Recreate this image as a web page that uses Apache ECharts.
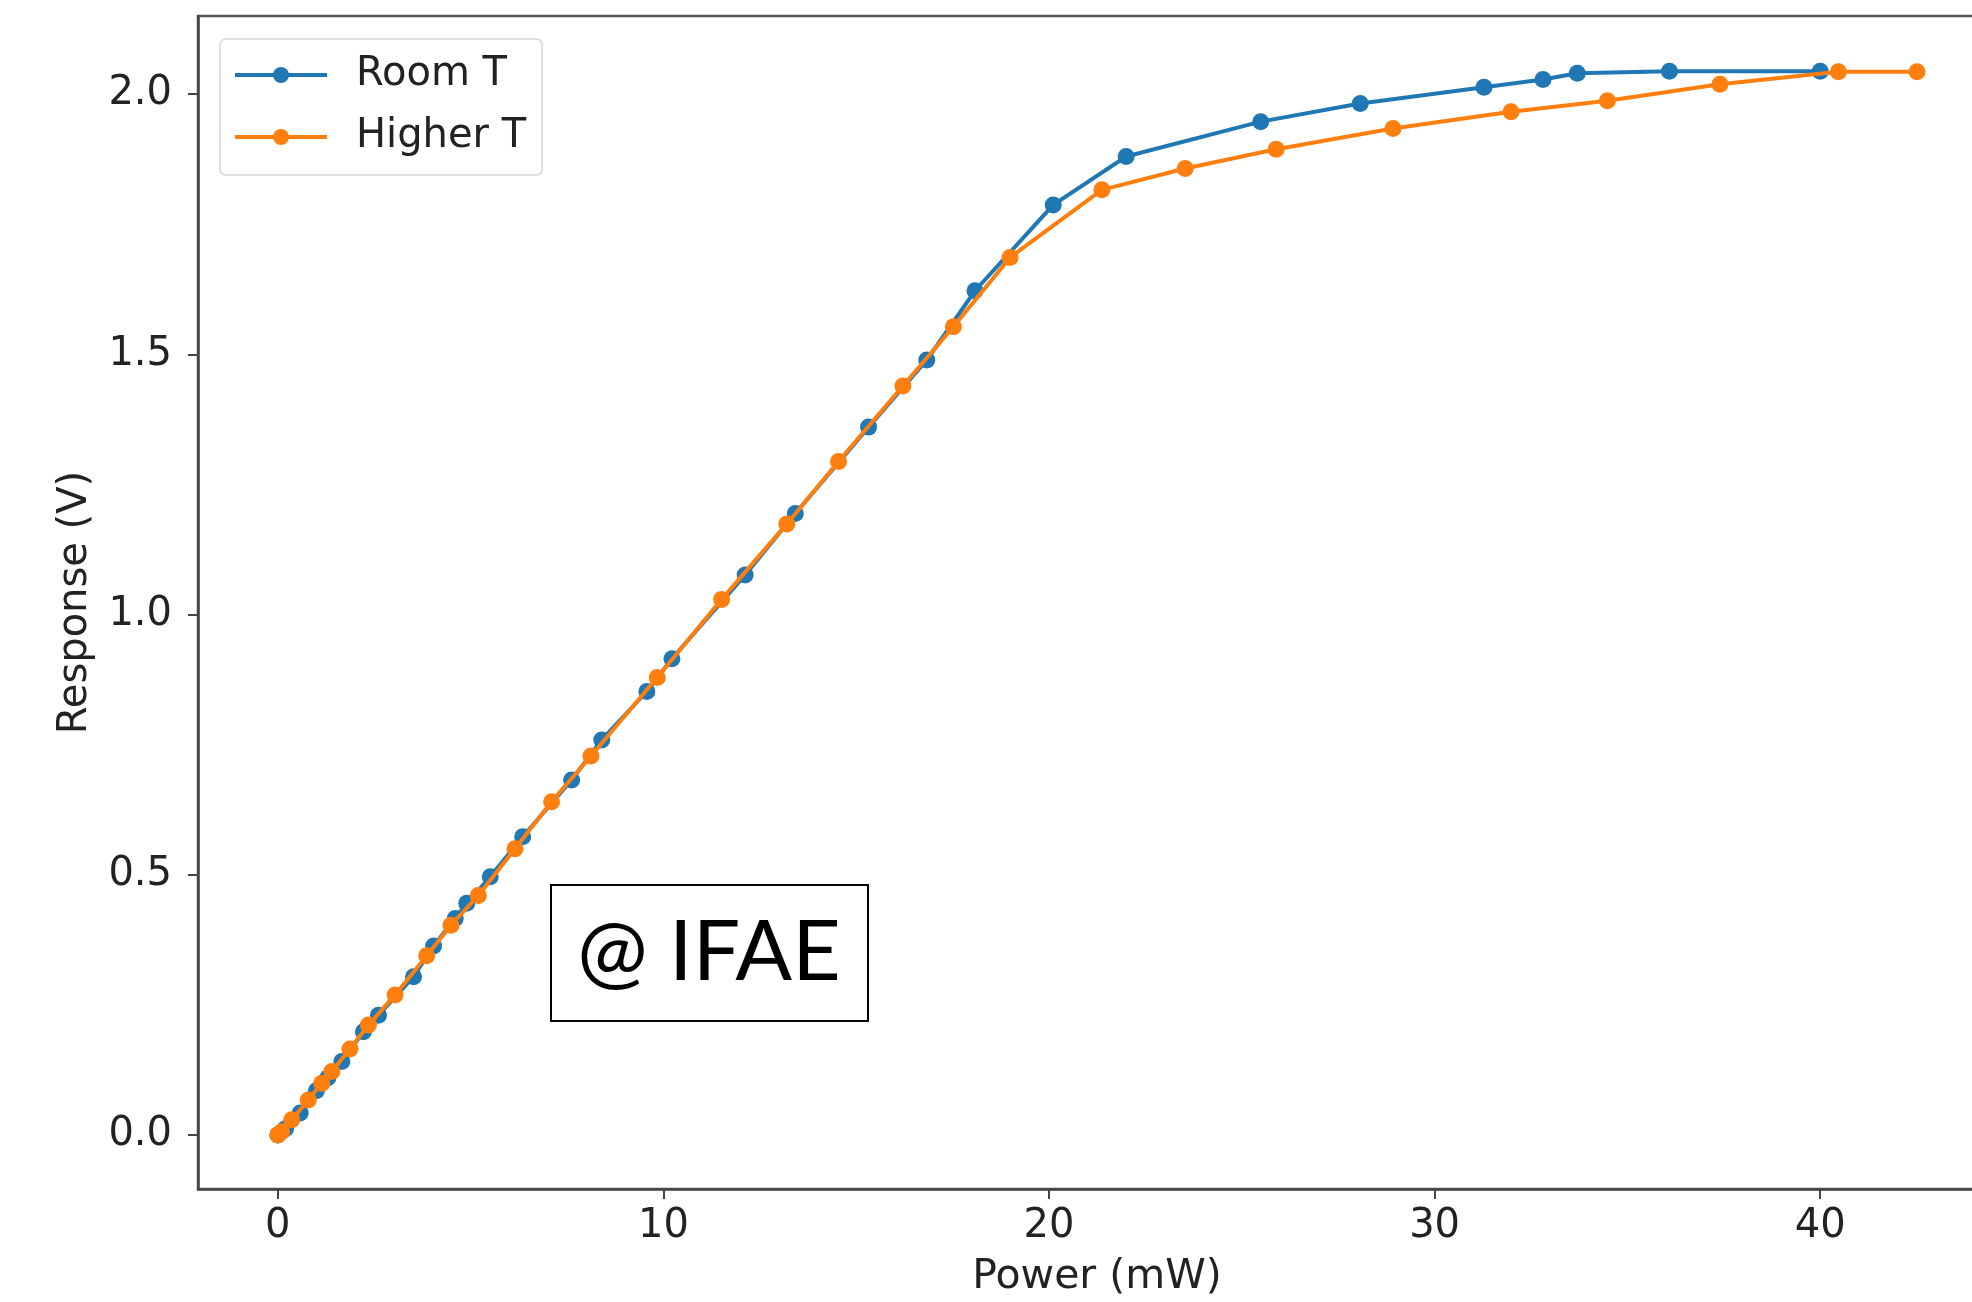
<!DOCTYPE html>
<html lang="en">
<head>
    <meta charset="UTF-8">
    <title>Response vs Power</title>
    <script src="https://cdn.jsdelivr.net/npm/echarts@6/dist/echarts.min.js"></script>
    <style>
        html, body { margin: 0; padding: 0; background: #fff; }
    </style>
</head>
<body>
    <div id="main" style="width: 1972px;height:1302px;"></div>
    <script type="text/javascript">
        // Room T : [power (mW), response (V)]
        var roomT = [
            [0, 0], [0.2, 0.012], [0.58, 0.042], [1.0, 0.085], [1.3, 0.11], [1.66, 0.141],
            [2.22, 0.198], [2.61, 0.230], [3.52, 0.304], [4.04, 0.363], [4.60, 0.416],
            [4.90, 0.445], [5.51, 0.496], [6.35, 0.573], [7.62, 0.682], [8.40, 0.759],
            [9.57, 0.852], [10.22, 0.915], [12.12, 1.076], [13.42, 1.194], [15.32, 1.360],
            [16.83, 1.489], [18.08, 1.622], [20.11, 1.787], [22.0, 1.880], [25.49, 1.947],
            [28.07, 1.982], [31.28, 2.013], [32.81, 2.028], [33.70, 2.040], [36.09, 2.044],
            [40.0, 2.044]
        ];
        // Higher T
        var higherT = [
            [0, 0], [0.1, 0.006], [0.36, 0.029], [0.79, 0.067], [1.14, 0.099], [1.40, 0.122],
            [1.87, 0.165], [2.35, 0.211], [3.04, 0.269], [3.86, 0.344], [4.49, 0.403],
            [5.2, 0.46], [6.15, 0.550], [7.10, 0.640], [8.12, 0.728], [9.84, 0.879],
            [11.51, 1.029], [13.20, 1.174], [14.54, 1.294], [16.21, 1.439], [17.52, 1.553],
            [18.99, 1.686], [21.37, 1.816], [23.53, 1.857], [25.89, 1.894], [28.92, 1.934],
            [31.98, 1.966], [34.48, 1.987], [37.40, 2.019], [40.47, 2.043], [42.51, 2.043]
        ];
        var xTicks = [0, 10, 20, 30, 40];
        var yTicks = [0, 0.5, 1.0, 1.5, 2.0];

        var myChart = echarts.init(document.getElementById('main'));

        var tickFont = { fontFamily: 'DejaVu Sans', fontSize: 40, color: '#222' };

        var option = {
            animation: false,
            backgroundColor: '#fff',
            grid: {
                left: 198,
                top: 16,
                right: -4,   // right spine falls just outside the picture, as in the cropped original
                bottom: 113,
                outerBoundsMode: 'none',
                containLabel: false,
                show: true,
                borderColor: '#555',
                borderWidth: 2.5
            },
            legend: {
                left: 220,
                top: 39,
                orient: 'vertical',
                itemWidth: 92,
                itemHeight: 20,
                itemGap: 14,
                padding: [12, 16, 14, 13],
                backgroundColor: '#fff',
                borderColor: '#d4d4d4',
                borderWidth: 1.5,
                borderRadius: 6,
                lineStyle: { width: 4 },
                textStyle: {
                    fontFamily: 'DejaVu Sans',
                    fontSize: 40,
                    color: '#222',
                    lineHeight: 48,
                    padding: [0, 0, 0, 24]
                },
                data: ['Room T', 'Higher T']
            },
            xAxis: {
                type: 'value',
                min: -2.07,
                max: 44.04,
                name: 'Power (mW)',
                nameLocation: 'middle',
                nameGap: 68,
                nameTextStyle: {
                    fontFamily: 'DejaVu Sans', fontSize: 41, color: '#222',
                    padding: [0, 0, 0, 20]
                },
                splitLine: { show: false },
                axisLine: { onZero: false, lineStyle: { color: '#444', width: 2.5 } },
                axisTick: {
                    customValues: xTicks,
                    length: 10,
                    lineStyle: { color: '#444', width: 2 }
                },
                axisLabel: Object.assign({
                    customValues: xTicks,
                    margin: 18
                }, tickFont)
            },
            yAxis: {
                type: 'value',
                min: -0.104,
                max: 2.15,
                name: 'Response (V)',
                nameLocation: 'middle',
                nameGap: 102,
                nameTextStyle: { fontFamily: 'DejaVu Sans', fontSize: 40, color: '#222' },
                splitLine: { show: false },
                axisLine: { show: true, onZero: false, lineStyle: { color: '#444', width: 2.5 } },
                axisTick: {
                    show: true,
                    customValues: yTicks,
                    length: 10,
                    lineStyle: { color: '#444', width: 2 }
                },
                axisLabel: Object.assign({
                    customValues: yTicks,
                    margin: 26,
                    formatter: function (v) { return v.toFixed(1); }
                }, tickFont)
            },
            series: [
                {
                    name: 'Room T',
                    type: 'line',
                    data: roomT,
                    symbol: 'circle',
                    symbolSize: 17,
                    color: '#1f77b4',
                    lineStyle: { width: 4 },
                    z: 2
                },
                {
                    name: 'Higher T',
                    type: 'line',
                    data: higherT,
                    symbol: 'circle',
                    symbolSize: 17,
                    color: '#ff7f0e',
                    lineStyle: { width: 4 },
                    z: 3
                }
            ],
            graphic: [
                {
                    type: 'group',
                    left: 550,
                    top: 884,
                    z: 10,
                    children: [
                        {
                            type: 'rect',
                            shape: { x: 0, y: 0, width: 317, height: 136 },
                            style: { fill: '#fff', stroke: '#000', lineWidth: 2 }
                        },
                        {
                            type: 'text',
                            x: 158,
                            y: 68,
                            style: {
                                text: '@ IFAE',
                                fontFamily: 'Lato',
                                fontSize: 84,
                                fill: '#000',
                                align: 'center',
                                verticalAlign: 'middle'
                            }
                        }
                    ]
                }
            ]
        };

        myChart.setOption(option);
    </script>
</body>
</html>
